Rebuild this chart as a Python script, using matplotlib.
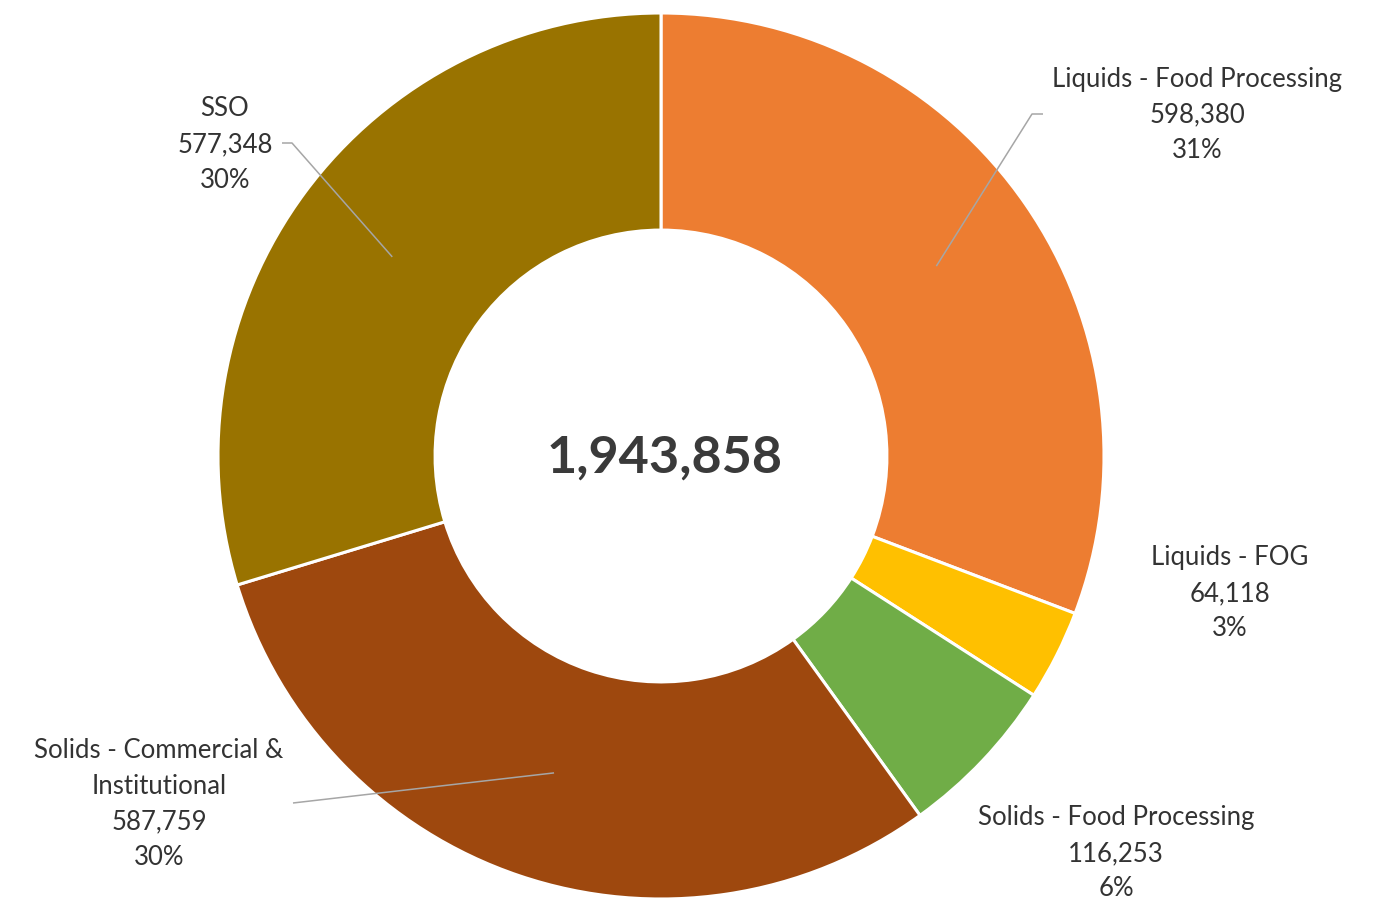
import matplotlib
matplotlib.use("Agg")
import matplotlib.pyplot as plt
import numpy as np

plt.rcParams['font.family'] = ['Lato', 'DejaVu Sans']

# ---- data ---------------------------------------------------------
categories = ["Liquids - Food Processing", "Liquids - FOG",
              "Solids - Food Processing", "Solids - Commercial &\nInstitutional", "SSO"]
tonnes = [598380, 64118, 116253, 587759, 577348]
colors = ["#ED7D31", "#FFC000", "#70AD47", "#9E480E", "#997300"]

# label block centres (x, y of first line) in pixel space, y from top
label_pos = [(1197, 79), (1230, 558), (1116, 818), (159, 751), (225, 109)]
# leader lines: (elbow start, elbow end) or None
leaders = [((1043, 114), (1032, 114)), None, None, ((293, 803), None), ((282, 143), (292, 143))]

W, H = 1388, 899
cx, cy, R = 661, H - 456, 443
txt = "#333333"

fig = plt.figure(figsize=(W / 100, H / 100), dpi=100)
ax = fig.add_axes([0, 0, 1, 1])

total = sum(tonnes)
wedges, _ = ax.pie(tonnes, colors=colors, startangle=90, counterclock=False,
                   center=(cx, cy), radius=R, frame=True,
                   wedgeprops=dict(width=R * 0.49, edgecolor='white', linewidth=2.2))
ax.set_xlim(0, W)
ax.set_ylim(0, H)
ax.axis('off')

ax.text(cx + 4, cy - 2, f"{total:,}", ha='center', va='center', fontsize=37.5,
        fontweight='bold', color="#3a3a3a")

# labels and leader lines
cum = 0
for name, val, (lx, ly), ld in zip(categories, tonnes, label_pos, leaders):
    frac = val / total
    mid = np.deg2rad(90 - (cum + frac / 2) * 360)
    cum += frac
    lines = name.split("\n") + [f"{val:,}", f"{round(frac * 100):.0f}%"]
    for k, s in enumerate(lines):
        ax.text(lx, H - (ly + k * 35.5), s, ha='center', va='center',
                fontsize=18.5, color=txt)
    if ld is not None:
        ex = cx + 0.755 * R * np.cos(mid)
        ey = cy + 0.755 * R * np.sin(mid)
        p0, p1 = ld
        xs = [p0[0]]
        ys = [H - p0[1]]
        if p1 is not None:
            xs.append(p1[0])
            ys.append(H - p1[1])
        xs.append(ex)
        ys.append(ey)
        ax.plot(xs, ys, color="#A6A6A6", lw=1.1, solid_capstyle='butt')

fig.savefig("out.png", dpi=100, facecolor='white')
